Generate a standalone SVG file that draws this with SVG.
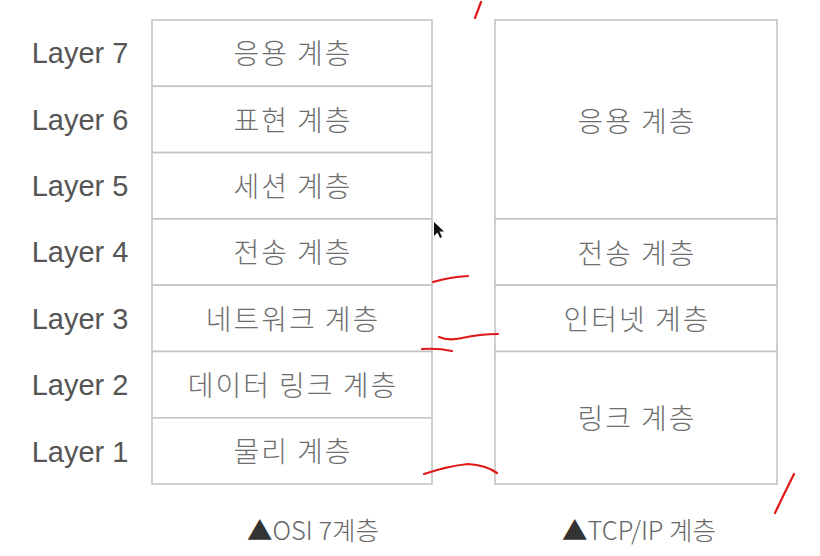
<svg xmlns="http://www.w3.org/2000/svg" width="820" height="556" viewBox="0 0 820 556">
<style>
.cell{fill:#fff;stroke:#c4c4c4;stroke-width:1.6}
.lbl{font-family:"Liberation Sans","Noto Sans",sans-serif;font-size:29px;fill:#555;text-anchor:middle;dominant-baseline:central}
.ko{font-family:"Noto Sans CJK KR","Noto Sans",sans-serif;font-size:28px;font-weight:300;letter-spacing:2px;fill:#6e6e6e;text-anchor:middle;dominant-baseline:central}
.cap{font-family:"Noto Sans CJK KR","Liberation Sans",sans-serif;font-size:25.5px;font-weight:300;fill:#666;text-anchor:middle;dominant-baseline:central}
.tri{fill:#333}
.red{fill:none;stroke:#e01818;stroke-width:2.2;stroke-linecap:round}
</style>
<rect width="820" height="556" fill="#fff"/>
<g id="layer-labels">
<text class="lbl" x="80" y="53">Layer 7</text>
<text class="lbl" x="80" y="120">Layer 6</text>
<text class="lbl" x="80" y="186">Layer 5</text>
<text class="lbl" x="80" y="252">Layer 4</text>
<text class="lbl" x="80" y="319">Layer 3</text>
<text class="lbl" x="80" y="385">Layer 2</text>
<text class="lbl" x="80" y="452">Layer 1</text>
</g>
<g id="osi">
<g id="osi7"><rect class="cell" x="152" y="20" width="280" height="66.3"/><text class="ko" x="293" y="52">응용 계층</text></g>
<g id="osi6"><rect class="cell" x="152" y="86.3" width="280" height="66.3"/><text class="ko" x="293" y="119">표현 계층</text></g>
<g id="osi5"><rect class="cell" x="152" y="152.6" width="280" height="66.3"/><text class="ko" x="293" y="185">세션 계층</text></g>
<g id="osi4"><rect class="cell" x="152" y="218.9" width="280" height="66.3"/><text class="ko" x="293" y="251">전송 계층</text></g>
<g id="osi3"><rect class="cell" x="152" y="285.2" width="280" height="66.3"/><text class="ko" x="293" y="318">네트워크 계층</text></g>
<g id="osi2"><rect class="cell" x="152" y="351.5" width="280" height="66.3"/><text class="ko" x="293" y="384">데이터 링크 계층</text></g>
<g id="osi1"><rect class="cell" x="152" y="417.8" width="280" height="66.2"/><text class="ko" x="293" y="450">물리 계층</text></g>
</g>
<g id="tcpip">
<g id="tcp-app"><rect class="cell" x="495" y="20" width="282" height="198.9"/><text class="ko" x="637" y="120">응용 계층</text></g>
<g id="tcp-transport"><rect class="cell" x="495" y="218.9" width="282" height="66.3"/><text class="ko" x="637" y="252">전송 계층</text></g>
<g id="tcp-internet"><rect class="cell" x="495" y="285.2" width="282" height="66.3"/><text class="ko" x="637" y="318">인터넷 계층</text></g>
<g id="tcp-link"><rect class="cell" x="495" y="351.5" width="282" height="132.5"/><text class="ko" x="637" y="417">링크 계층</text></g>
</g>
<g id="captions">
<text class="cap" x="313" y="528"><tspan class="tri">▲</tspan>OSI 7계층</text>
<text class="cap" x="639" y="528"><tspan class="tri">▲</tspan>TCP/IP 계층</text>
</g>
<g id="annotations">
<path class="red" d="M481 2 Q478 10 475 18"/>
<path class="red" d="M433 282 Q450 277 468 276"/>
<path class="red" d="M439 337 Q448 341 462 338 Q480 334 498 334"/>
<path class="red" d="M422 349 Q438 348 452 351"/>
<path class="red" d="M424 474 Q448 466 468 464 Q486 465 497 473"/>
<path class="red" d="M794 474 Q784 494 775 513"/>
<path d="M434 222 L434 236 L437.5 232.5 L440 238 L442 237 L439.5 231.5 L444 231.5 Z" fill="#111"/>
</g>
</svg>
